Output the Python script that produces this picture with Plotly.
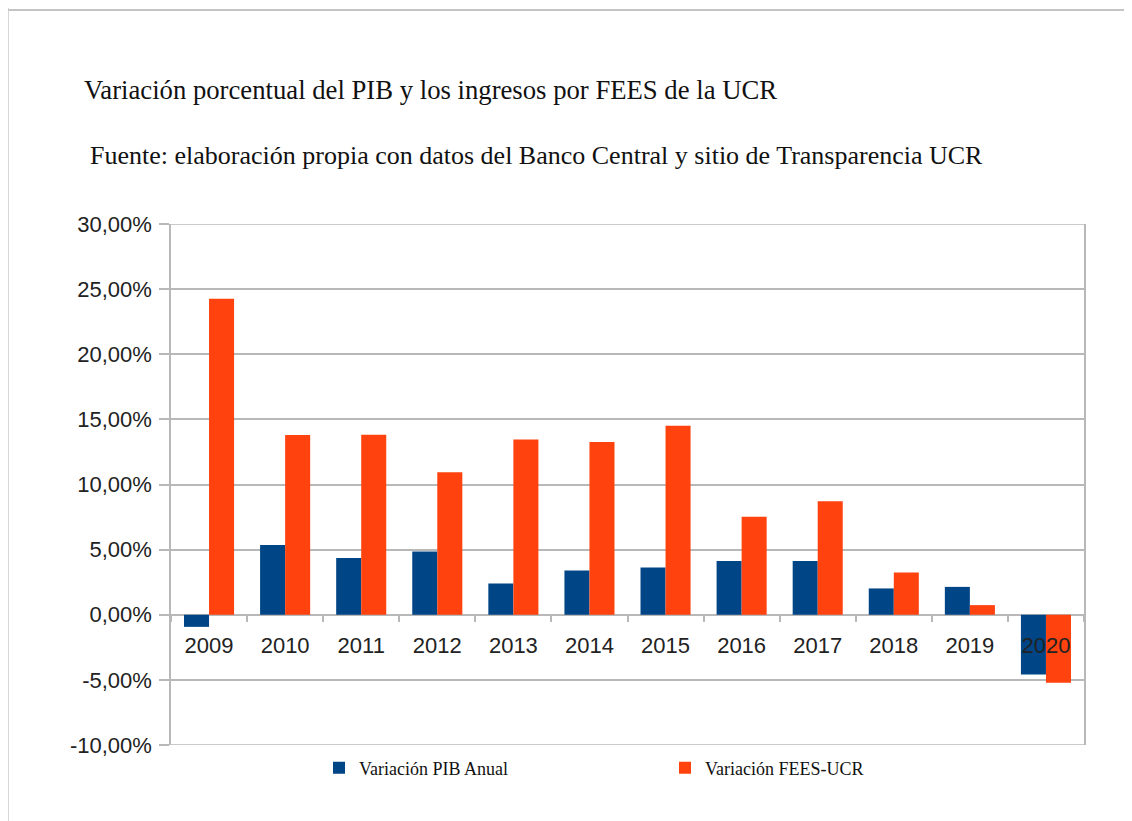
import plotly.graph_objects as go

# ---------------- data ----------------
years = ["2009", "2010", "2011", "2012", "2013", "2014", "2015", "2016", "2017", "2018", "2019", "2020"]
pib = [-0.93, 5.35, 4.35, 4.86, 2.40, 3.40, 3.63, 4.12, 4.12, 2.02, 2.14, -4.59]
fees = [24.26, 13.80, 13.82, 10.95, 13.46, 13.26, 14.51, 7.52, 8.72, 3.25, 0.74, -5.23]
y_tickvals = [-10, -5, 0, 5, 10, 15, 20, 25, 30]
y_ticktext = ["-10,00%", "-5,00%", "0,00%", "5,00%", "10,00%", "15,00%", "20,00%", "25,00%", "30,00%"]
series_names = ["Variación PIB Anual", "Variación FEES-UCR"]
title_text = "Variación porcentual del PIB y los ingresos por FEES de la UCR"
subtitle_text = "Fuente: elaboración propia con datos del Banco Central y sitio de Transparencia UCR"

# ---------------- layout geometry ----------------
O = 8  # page body margin
W, H = 1132 - O, 821 - O
PL, PR, PT, PB = 171, 1084, 224, 745  # plot area in page pixels
L, R, T, B = PL - O, W - (PR - O), PT - O, H - (PB - O)
pw, ph = W - L - R, H - T - B


def px_x(px):
    return (px - O - L) / pw


def px_y(py):
    return (H - B - (py - O)) / ph


GRID = "#b8b8b8"
BLUE = "#004586"
ORANGE = "#ff420e"
SERIF = "Liberation Serif, Times New Roman, serif"
SANS = "Liberation Sans, Arial, sans-serif"

fig = go.Figure()
fig.add_trace(go.Bar(x=years, y=pib, name=series_names[0], marker=dict(color=BLUE, line=dict(width=0))))
fig.add_trace(go.Bar(x=years, y=fees, name=series_names[1], marker=dict(color=ORANGE, line=dict(width=0))))

fig.update_layout(
    width=W, height=H,
    margin=dict(l=L, r=R, t=T, b=B, pad=0),
    paper_bgcolor="white", plot_bgcolor="white",
    barmode="group", bargap=0.342, bargroupgap=0,
    showlegend=True,
    legend=dict(
        orientation="h", x=px_x(319), xanchor="left", y=px_y(768), yanchor="middle",
        font=dict(family=SERIF, size=18, color="#111111"),
        entrywidth=301, entrywidthmode="pixels", itemwidth=30,
        bgcolor="rgba(0,0,0,0)", traceorder="normal",
    ),
    font=dict(family=SANS, color="#222222"),
)

fig.update_yaxes(
    range=[-10, 30], tickvals=y_tickvals, ticktext=y_ticktext,
    showgrid=True, gridcolor=GRID, gridwidth=1.5,
    showline=True, linecolor=GRID, linewidth=1.5, mirror=True,
    ticks="outside", ticklen=10, tickcolor=GRID, tickwidth=1.5,
    tickfont=dict(family=SANS, size=22, color="#222222"),
    ticklabelstandoff=3,
    zeroline=False, fixedrange=True,
)
fig.update_xaxes(
    anchor="free", position=0.25,
    showgrid=False, showline=False, zeroline=False,
    ticks="outside", ticklen=6, tickcolor=GRID, tickwidth=1.5,
    tickson="boundaries",
    tickfont=dict(family=SANS, size=22, color="#222222"),
    ticklabelstandoff=15,
    fixedrange=True,
)

# bottom and top plot-area border lines (at the y-axis range ends)
for yv in (y_tickvals[0], y_tickvals[-1]):
    fig.add_shape(type="line", xref="paper", yref="y", x0=0, x1=1, y0=yv, y1=yv,
                  line=dict(color=GRID, width=1.5), layer="below")

# titles
fig.add_annotation(text=title_text, xref="paper", yref="paper", x=px_x(82), y=px_y(90),
                   xanchor="left", yanchor="middle", showarrow=False,
                   font=dict(family=SERIF, size=26.7, color="#111111"))
fig.add_annotation(text=subtitle_text, xref="paper", yref="paper", x=px_x(88), y=px_y(156),
                   xanchor="left", yanchor="middle", showarrow=False,
                   font=dict(family=SERIF, size=26, color="#111111"))

# outer frame lines (top and left)
fig.add_shape(type="line", xref="paper", yref="paper", x0=px_x(8), x1=px_x(1140), y0=px_y(10), y1=px_y(10),
              line=dict(color="#b0b0b0", width=1.5), layer="above")
fig.add_shape(type="line", xref="paper", yref="paper", x0=px_x(8), x1=px_x(8), y0=px_y(0), y1=px_y(830),
              line=dict(color="#c8c8c8", width=1.5), layer="above")

fig.write_html("out.html")
